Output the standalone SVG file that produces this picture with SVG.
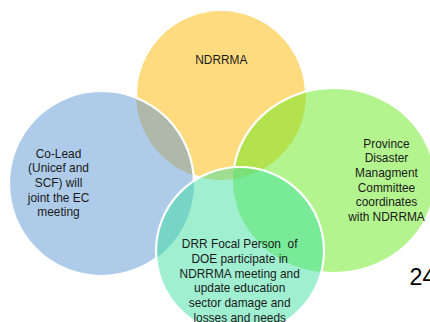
<svg xmlns="http://www.w3.org/2000/svg" width="430" height="322" viewBox="0 0 430 322">
  <style>
    .lbl { font-family: "Liberation Sans", Arial, sans-serif; font-size: 11.9px; fill: #1a1a1a; text-anchor: middle; }
    .edge { fill: none; stroke: #ffffff; stroke-width: 2.2; }
  </style>
  <defs>
    <mask id="mY" maskUnits="userSpaceOnUse" x="0" y="0" width="430" height="322">
      <rect x="0" y="0" width="430" height="322" fill="#fff"/>
      <circle cx="101.5" cy="183.5" r="92.5" fill="#000"/>
      <ellipse cx="334" cy="180.5" rx="101" ry="92.5" fill="#000"/>
      <circle cx="240" cy="251" r="84" fill="#000"/>
    </mask>
    <mask id="mB" maskUnits="userSpaceOnUse" x="0" y="0" width="430" height="322">
      <rect x="0" y="0" width="430" height="322" fill="#fff"/>
      <circle cx="240" cy="251" r="84" fill="#000"/>
    </mask>
    <mask id="mG" maskUnits="userSpaceOnUse" x="0" y="0" width="430" height="322">
      <rect x="0" y="0" width="430" height="322" fill="#fff"/>
      <circle cx="240" cy="251" r="84" fill="#000"/>
    </mask>
  </defs>
  <rect x="0" y="0" width="430" height="322" fill="#ffffff"/>

  <g id="node-ndrrma">
    <circle cx="221" cy="95" r="85" fill="#FFB800" fill-opacity="0.5"/>
    <circle class="edge" cx="221" cy="95" r="85" mask="url(#mY)"/>
  </g>
  <g id="node-colead">
    <circle cx="101.5" cy="183.5" r="92.5" fill="#5D97D3" fill-opacity="0.5"/>
    <circle class="edge" cx="101.5" cy="183.5" r="92.5" mask="url(#mB)"/>
  </g>
  <g id="node-province">
    <ellipse cx="334" cy="180.5" rx="101" ry="92.5" fill="#67E91D" fill-opacity="0.5"/>
    <ellipse class="edge" cx="334" cy="180.5" rx="101" ry="92.5" mask="url(#mG)"/>
  </g>
  <g id="node-drr">
    <circle cx="240" cy="251" r="84" fill="#3FDFA1" fill-opacity="0.5"/>
    <circle class="edge" cx="240" cy="251" r="84"/>
  </g>

  <g id="labels">
    <text class="lbl" x="221.3" y="64">NDRRMA</text>

    <text class="lbl" x="58.5" y="157.7">Co-Lead</text>
    <text class="lbl" x="58.5" y="172.4">(Unicef and</text>
    <text class="lbl" x="58.5" y="187">SCF) will</text>
    <text class="lbl" x="58.5" y="201.7">joint the EC</text>
    <text class="lbl" x="58.5" y="216.3">meeting</text>

    <text class="lbl" x="386.5" y="147.7">Province</text>
    <text class="lbl" x="386.5" y="162.3">Disaster</text>
    <text class="lbl" x="386.5" y="176.9">Managment</text>
    <text class="lbl" x="386.5" y="191.6">Committee</text>
    <text class="lbl" x="386.5" y="206.2">coordinates</text>
    <text class="lbl" x="386.5" y="220.8">with NDRRMA</text>

    <text class="lbl" x="239.7" y="248.3" style="white-space:pre">DRR Focal Person  of</text>
    <text class="lbl" x="239.7" y="262.9">DOE participate in</text>
    <text class="lbl" x="239.7" y="277.6">NDRRMA meeting and</text>
    <text class="lbl" x="239.7" y="292.2">update education</text>
    <text class="lbl" x="239.7" y="306.8">sector damage and</text>
    <text class="lbl" x="239.7" y="321.5">losses and needs</text>
  </g>

  <text x="409.5" y="285" style="font-family: 'Liberation Sans', Arial, sans-serif; font-size: 23.3px; fill: #000000;">24</text>
</svg>
